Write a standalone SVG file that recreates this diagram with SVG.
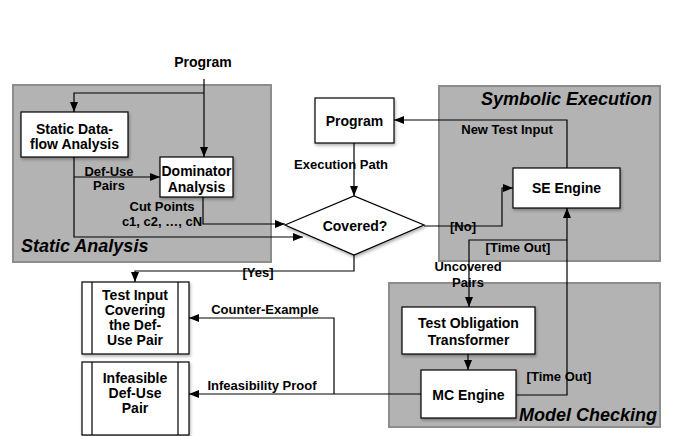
<svg xmlns="http://www.w3.org/2000/svg" width="690" height="436" viewBox="0 0 690 436">
<style>
.panel{fill:#b3b3b3;stroke:#8c8c8c;stroke-width:2}
.box{fill:#fff;stroke:#000;stroke-width:1.2;filter:url(#sh)}
.in{stroke:#000;stroke-width:1.2;fill:none}
.t{font-family:"Liberation Sans",Arial,sans-serif;font-weight:bold;font-size:14px;text-anchor:middle;fill:#000}
.l{font-family:"Liberation Sans",Arial,sans-serif;font-weight:bold;font-size:13px;text-anchor:middle;fill:#000}
.title{font-family:"Liberation Sans",Arial,sans-serif;font-weight:bold;font-style:italic;font-size:18px;fill:#000}
.c{fill:none;stroke:#000;stroke-width:1.2;marker-end:url(#ah)}
.cn{fill:none;stroke:#000;stroke-width:1.2}
</style>
<defs>
<marker id="ah" markerUnits="userSpaceOnUse" markerWidth="10" markerHeight="10" viewBox="0 0 10 10" refX="10" refY="5" orient="auto">
<path d="M0,1 L10,5 L0,9 Z" fill="#000"/>
</marker>
<filter id="sh" x="-10%" y="-10%" width="130%" height="140%">
<feDropShadow dx="1" dy="2" stdDeviation="1.5" flood-color="#000" flood-opacity="0.3"/>
</filter>
</defs>
<rect width="690" height="436" fill="#fff"/>

<g id="panel-static">
<rect class="panel" x="13" y="85" width="258" height="177"/>
<text class="title" x="21" y="252">Static Analysis</text>
</g>
<g id="panel-symbolic">
<rect class="panel" x="439" y="86" width="221" height="175"/>
<text class="title" x="652" y="105" text-anchor="end">Symbolic Execution</text>
</g>
<g id="panel-mc">
<rect class="panel" x="389" y="283" width="271" height="144"/>
<text class="title" x="657" y="421" text-anchor="end">Model Checking</text>
</g>

<g id="connectors">
<path class="c" d="M204,79 V157"/>
<path class="c" d="M204,93 H74 V112"/>
<path class="c" d="M74,157 V237 H303"/>
<path class="c" d="M74,177 H160"/>
<path class="c" d="M203,197 V224 H285"/>
<path class="c" d="M354,143 V196"/>
<path class="c" d="M424,226 H502 V188 H513"/>
<path class="c" d="M567,168 V120 H394"/>
<path class="c" d="M354,255 V271 H135 V282"/>
<path class="c" d="M516,395 H567 V208"/>
<path class="c" d="M567,240 H469 V307"/>
<path class="c" d="M468,354 V370"/>
<path class="c" d="M421,394 H189"/>
<path class="c" d="M334,394 V318 H189"/>
<text class="l" x="109" y="176">Def-Use</text>
<text class="l" x="109" y="190">Pairs</text>
<text class="l" x="162" y="211">Cut Points</text>
<text class="l" x="162" y="226">c1, c2, …, cN</text>
<text class="l" x="341" y="169">Execution Path</text>
<text class="l" x="507" y="134">New Test Input</text>
<text class="l" x="463" y="231">[No]</text>
<text class="l" x="518" y="252">[Time Out]</text>
<text class="l" x="468" y="271">Uncovered</text>
<text class="l" x="468" y="287">Pairs</text>
<text class="l" x="559" y="381">[Time Out]</text>
<text class="l" x="258" y="277">[Yes]</text>
<text class="l" x="265" y="314">Counter-Example</text>
<text class="l" x="262" y="390">Infeasibility Proof</text>
</g>

<g id="program-input">
<text class="t" x="203" y="67">Program</text>
</g>
<g id="static-dataflow">
<rect class="box" x="21" y="112" width="107" height="45"/>
<text class="t" x="74.5" y="134">Static Data-</text>
<text class="t" x="74.5" y="149">flow Analysis</text>
</g>
<g id="dominator">
<rect class="box" x="160" y="157" width="73" height="40"/>
<text class="t" x="196.5" y="176">Dominator</text>
<text class="t" x="196.5" y="192">Analysis</text>
</g>
<g id="program">
<rect class="box" x="315" y="98" width="79" height="45"/>
<text class="t" x="354.5" y="126">Program</text>
</g>
<g id="covered">
<polygon class="box" points="285,225 354,196 424,225 354,255"/>
<text class="t" x="355" y="231">Covered?</text>
</g>
<g id="se-engine">
<rect class="box" x="513" y="168" width="107" height="40"/>
<text class="t" x="566.5" y="193">SE Engine</text>
</g>
<g id="tot">
<rect class="box" x="402" y="307" width="133" height="47"/>
<text class="t" x="468.5" y="328">Test Obligation</text>
<text class="t" x="468.5" y="345">Transformer</text>
</g>
<g id="mc-engine">
<rect class="box" x="421" y="370" width="95" height="48"/>
<text class="t" x="468.5" y="400">MC Engine</text>
</g>
<g id="test-input">
<rect class="box" x="82" y="282" width="107" height="72"/>
<path class="in" d="M92,282 V354 M178,282 V354"/>
<text class="t" x="135" y="300">Test Input</text>
<text class="t" x="135" y="315">Covering</text>
<text class="t" x="135" y="330">the Def-</text>
<text class="t" x="135" y="345">Use Pair</text>
</g>
<g id="infeasible">
<rect class="box" x="82" y="362" width="107" height="73"/>
<path class="in" d="M92,362 V435 M178,362 V435"/>
<text class="t" x="135" y="383">Infeasible</text>
<text class="t" x="135" y="398">Def-Use</text>
<text class="t" x="135" y="413">Pair</text>
</g>
</svg>
